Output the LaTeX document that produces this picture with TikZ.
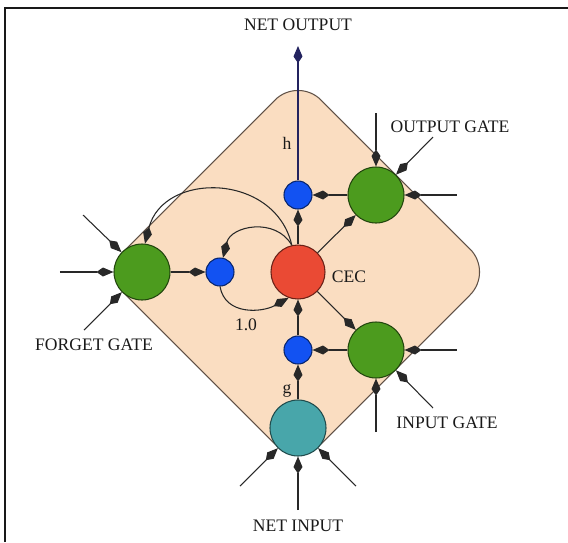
\documentclass[tikz,border=0pt]{standalone}
\usepackage{fontspec}
\setmainfont{Liberation Serif}
\usetikzlibrary{arrows.meta}

\definecolor{cellfill}{RGB}{250,221,193}
\definecolor{celledge}{RGB}{95,80,70}
\definecolor{cecred}{RGB}{234,74,52}
\definecolor{multblue}{RGB}{18,82,242}
\definecolor{gategreen}{RGB}{76,155,30}
\definecolor{inputteal}{RGB}{72,166,170}
\definecolor{wire}{RGB}{40,40,40}
\definecolor{hwire}{RGB}{35,35,95}

\begin{document}
\begin{tikzpicture}[
  line width=0.6pt,
  arr/.style={draw=wire, -{Kite[length=0.34cm,width=0.18cm,inset=0.13cm]}},
  gate/.style={circle, fill=gategreen, draw=gategreen!45!black, minimum size=1.12cm, inner sep=0pt},
  mult/.style={circle, fill=multblue, draw=multblue!45!black, minimum size=0.56cm, inner sep=0pt},
  txt/.style={text=black!90, inner sep=1pt}
]
\useasboundingbox (0,0) rectangle (11.36,-10.84);
% frame
\draw[line width=1.2pt, black!90] (0.10,-10.84) -- (0.10,-0.16) -- (11.36,-0.16);
% cell body
\draw[fill=cellfill, draw=celledge, rounded corners=0.65cm] (5.96,-1.54) -- (9.86,-5.44) -- (5.96,-9.34) -- (2.06,-5.44) -- cycle;

% units
\node[circle, fill=cecred, draw=cecred!45!black, minimum size=1.08cm, inner sep=0pt] (CEC) at (5.96,-5.44) {};
\node[mult] (PH) at (5.96,-3.90) {};
\node[mult] (PF) at (4.40,-5.44) {};
\node[mult] (PG) at (5.96,-7.00) {};
\node[gate] (GF) at (2.84,-5.44) {};
\node[gate] (GO) at (7.52,-3.90) {};
\node[gate] (GI) at (7.52,-7.00) {};
\node[circle, fill=inputteal, draw=inputteal!45!black, minimum size=1.12cm, inner sep=0pt] (NIn) at (5.96,-8.56) {};

% free ends of the incoming lines
\coordinate (GFa) at (1.20,-5.44);
\coordinate (GFb) at (1.66,-4.30);
\coordinate (GFc) at (1.68,-6.60);
\coordinate (GOa) at (7.52,-2.26);
\coordinate (GOb) at (8.66,-2.74);
\coordinate (GOc) at (9.14,-3.90);
\coordinate (GIa) at (9.14,-7.00);
\coordinate (GIb) at (8.66,-8.16);
\coordinate (GIc) at (7.52,-8.64);
\coordinate (NIa) at (4.80,-9.72);
\coordinate (NIb) at (5.96,-10.20);
\coordinate (NIc) at (7.12,-9.72);
\coordinate (NOut) at (5.96,-0.92);

% labels
\node[txt] (LNO) at (5.96,-0.50) {NET OUTPUT};
\node[txt] (LNI) at (5.96,-10.52) {NET INPUT};
\node[txt] (LFG) at (1.88,-6.90) {FORGET GATE};
\node[txt] (LOG) at (9.00,-2.54) {OUTPUT GATE};
\node[txt] (LIG) at (8.94,-8.46) {INPUT GATE};
\node[txt] (LCEC) at (6.98,-5.54) {CEC};
\node[txt] (Lh) at (5.74,-2.86) {h};
\node[txt] (Lg) at (5.74,-7.82) {g};
\node[txt] (L10) at (4.92,-6.50) {1.0};

% inputs to the gates
\foreach \src/\dst in {GFa/GF, GFb/GF, GFc/GF, GOa/GO, GOb/GO, GOc/GO, GIa/GI, GIb/GI, GIc/GI, NIa/NIn, NIb/NIn, NIc/NIn}
  \draw[arr] (\src) -- (\dst);

% inside the cell
\draw[arr] (GF) -- (PF);
\draw[arr] (NIn) -- (PG);
\draw[arr] (GI) -- (PG);
\draw[arr] (PG) -- (CEC);
\draw[arr] (CEC) -- (PH);
\draw[arr] (GO) -- (PH);
\draw[arr] (CEC) -- (GO);
\draw[arr] (CEC) -- (GI);
\draw[arr] (PF.south) to[out=-80, in=209, looseness=1.1] (CEC.250);
\draw[arr] (CEC.103) to[out=120, in=76, looseness=1.2] (PF.78);
\draw[arr] (CEC.103) to[out=103, in=76, looseness=1.3] (GF.84);
\draw[arr, draw=hwire] (PH) -- (NOut);
\end{tikzpicture}
\end{document}
